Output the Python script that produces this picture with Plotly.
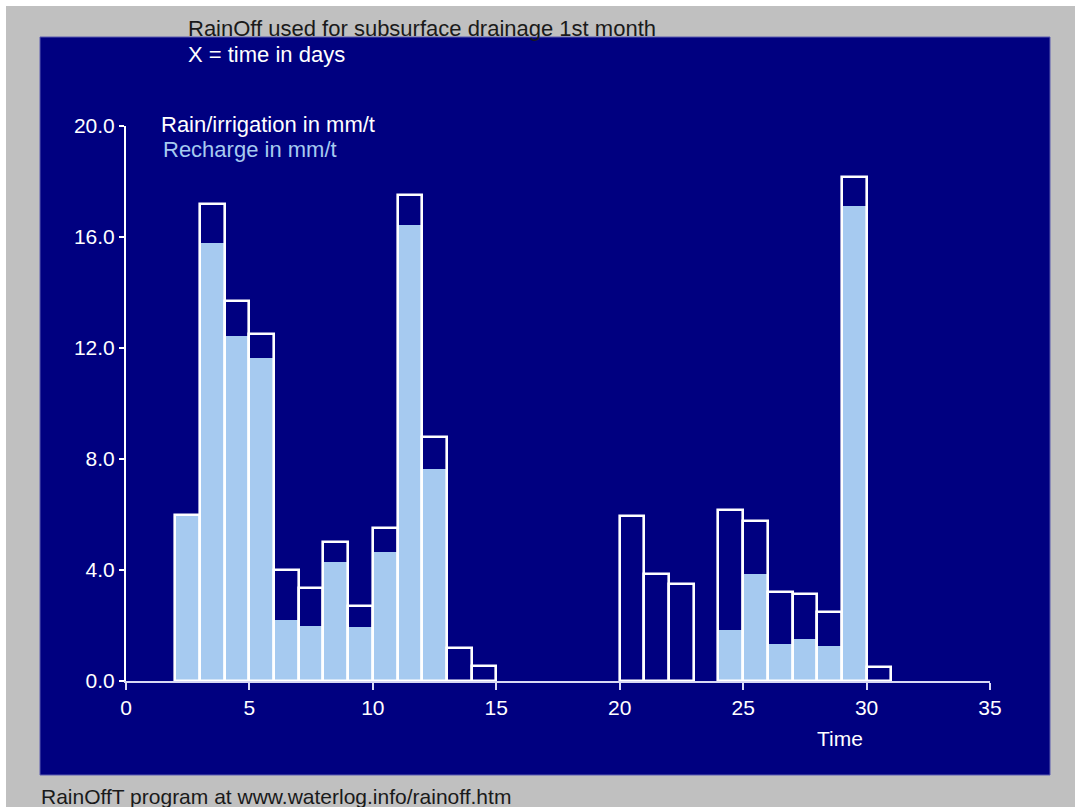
import plotly.graph_objects as go

# ---- data ----
day_start = [2, 3, 4, 5, 6, 7, 8, 9, 10, 11, 12, 13, 14, 20, 21, 22, 24, 25, 26, 27, 28, 29, 30]
rain = [6.0, 17.2, 13.7, 12.5, 4.0, 3.35, 5.0, 2.7, 5.5, 17.5, 8.8, 1.2, 0.55,
        5.95, 3.85, 3.5, 6.15, 5.75, 3.2, 3.15, 2.5, 18.15, 0.5]
recharge = [6.0, 15.8, 12.45, 11.65, 2.2, 2.0, 4.3, 1.95, 4.65, 16.45, 7.65, 0, 0,
            0, 0, 0, 1.85, 3.85, 1.35, 1.5, 1.25, 17.1, 0]
x_ticks = [0, 5, 10, 15, 20, 25, 30, 35]
y_ticks = [0, 4, 8, 12, 16, 20]
y_ticktext = [f"{v:.1f}" for v in y_ticks]

title_text = "RainOff used for subsurface drainage 1st month"
subtitle_text = "X = time in days"
legend_rain = "Rain/irrigation in mm/t"
legend_recharge = "Recharge in mm/t"
xaxis_label = "Time"
footer_text = "RainOffT program at www.waterlog.info/rainoff.htm"

# ---- styling / layout ----
W, H = 1075, 807
L, R, T, B = 126, 85, 126, 126
PW, PH = W - L - R, H - T - B
NAVY = "#000080"
LIGHT = "#a6caf0"
GRAY = "#c0c0c0"
FONT = "Liberation Sans, Arial, sans-serif"


def px(x):
    return (x - L) / PW


def py(y):
    return (H - B - y) / PH


x_centers = [d + 0.5 for d in day_start]

fig = go.Figure()
fig.add_trace(go.Bar(x=x_centers, y=recharge, width=1.0,
                     marker=dict(color=LIGHT, line=dict(width=0)),
                     showlegend=False, hoverinfo="skip"))
fig.add_trace(go.Bar(x=x_centers, y=rain, width=1.0,
                     marker=dict(color="rgba(0,0,0,0)", line=dict(color="white", width=2.6)),
                     showlegend=False, hoverinfo="skip"))

shapes = [
    dict(type="rect", xref="paper", yref="paper", x0=px(40), x1=px(1050), y0=py(775), y1=py(37),
         fillcolor=NAVY, line=dict(color="#5a5ab0", width=1), layer="below"),
    dict(type="rect", xref="paper", yref="paper", x0=px(0), x1=px(W), y0=py(6), y1=py(0),
         fillcolor="white", line=dict(width=0), layer="below"),
    dict(type="rect", xref="paper", yref="paper", x0=px(0), x1=px(6), y0=py(H), y1=py(0),
         fillcolor="white", line=dict(width=0), layer="below"),
]


def ann(text, x, y, color, size=22, anchor="left"):
    return dict(text=text, x=px(x), y=py(y), xref="paper", yref="paper",
                xanchor=anchor, yanchor="middle", showarrow=False,
                font=dict(family=FONT, size=size, color=color))


annotations = [
    ann(title_text, 186, 28, "#1a1a1a"),
    ann(subtitle_text, 186, 54, "white"),
    ann(legend_rain, 159, 124, "white"),
    ann(legend_recharge, 161, 149, LIGHT),
    ann(xaxis_label, 840, 738, "white", size=21, anchor="center"),
    ann(footer_text, 39, 796, "#1a1a1a", size=21),
]

fig.update_layout(
    width=W, height=H,
    margin=dict(l=L, r=R, t=T, b=B, pad=0),
    paper_bgcolor=GRAY, plot_bgcolor=NAVY,
    barmode="overlay", bargap=0,
    font=dict(family=FONT, size=21, color="white"),
    shapes=shapes, annotations=annotations,
    xaxis=dict(range=[0, 35], tickvals=x_ticks, ticks="outside", ticklen=7, tickwidth=2,
               tickcolor="#d8d8f4", showline=True, linecolor="#d8d8f4", linewidth=2,
               showgrid=False, zeroline=False, fixedrange=True,
               tickfont=dict(family=FONT, size=21, color="white")),
    yaxis=dict(range=[0, 20], tickvals=y_ticks, ticktext=y_ticktext, ticks="outside",
               ticklen=5, tickwidth=2, tickcolor="white", showline=True, linecolor="white",
               linewidth=2, showgrid=False, zeroline=False, fixedrange=True,
               tickfont=dict(family=FONT, size=21, color="white")),
)

fig.write_html("out.html", config={"displayModeBar": False},
               post_script="document.body.style.margin='0';document.body.style.overflow='hidden';")
